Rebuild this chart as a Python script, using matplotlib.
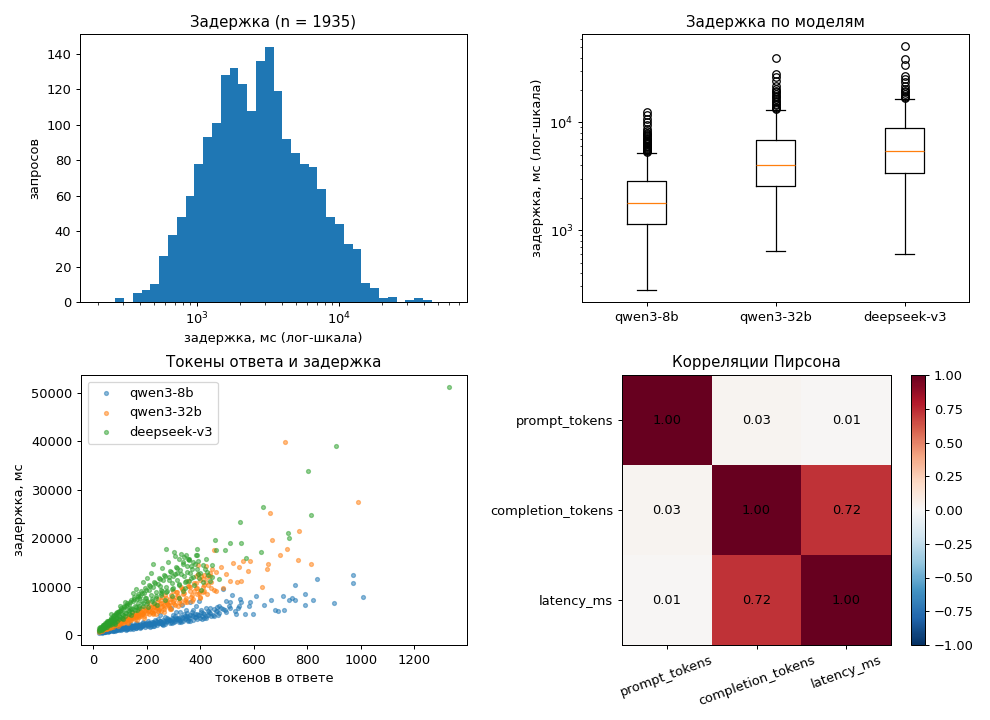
import numpy as np
import matplotlib
matplotlib.use("Agg")
import matplotlib.pyplot as plt

plt.rcParams["font.size"] = 10.4

# ---------------- data ----------------
# histogram (log-spaced bins 200..60000 ms, 40 bins)
hist_lo, hist_hi, hist_nbins = 200, 60000, 40
hist_counts = [0, 0, 2, 0, 5, 7, 10, 26, 38, 48, 60, 78, 93, 101, 128, 132, 123, 108,
               136, 144, 119, 92, 84, 78, 76, 64, 48, 44, 33, 30, 11, 8, 2, 3, 0, 1, 2, 1, 0, 0]

models = ["qwen3-8b", "qwen3-32b", "deepseek-v3"]
box_whislo = [279, 640, 600]
box_q1 = [1144, 2566, 3357]
box_med = [1787, 3981, 5474]
box_q3 = [2833, 6918, 8872]
box_whishi = [5248, 13090, 16520]
fliers_8b = [5300, 5400, 5500, 5600, 5700, 5800, 5900, 6000, 6100, 6250, 6400, 6550, 6700,
             6850, 7000, 7200, 7400, 7600, 7800, 8000, 8300, 8740, 9380, 10070, 10800, 11600, 12450]
fliers_32b = [13370, 13600, 13900, 14350, 14800, 15400, 15900, 16530, 17100, 17750, 18400,
              19050, 19700, 20450, 21950, 24400, 26200, 28100, 39500]
fliers_ds = [16800, 17200, 17750, 18300, 19050, 19700, 20450, 21950, 23560, 25300, 27150,
             34100, 38700, 51000]

# scatter: (completion tokens, latency ms)
pts_8b = [(21, 520), (34, 610), (26, 730), (45, 690), (38, 850), (52, 760), (29, 560), (61, 980), (47, 900),
          (56, 1120), (72, 870), (40, 640), (66, 1210), (83, 1050), (58, 810), (77, 1340), (91, 1180), (69, 960),
          (102, 1400), (86, 1290), (95, 1020), (112, 1610), (79, 1150), (124, 1330), (106, 1220), (118, 1750),
          (133, 1480), (99, 1560), (141, 1880), (127, 1270), (150, 1640), (137, 2010), (158, 1530), (145, 1420),
          (166, 2150), (173, 1760), (155, 1930), (182, 1890), (190, 2350), (162, 1680), (199, 2060), (177, 1580),
          (208, 2440), (215, 1950), (194, 2200), (224, 2620), (231, 2180), (203, 1780), (240, 2410), (248, 2850),
          (219, 2290), (257, 2300), (264, 2980), (236, 2060), (273, 2640), (281, 3180), (252, 2520), (290, 2760),
          (298, 3350), (268, 2350), (306, 2980), (315, 3560), (285, 3020), (323, 2840), (332, 3720), (301, 2620),
          (341, 3240), (350, 3900), (318, 3100), (359, 3450), (368, 4150), (336, 2900), (378, 3680), (388, 4330),
          (355, 3200), (398, 3590), (410, 4500), (372, 3050), (421, 3880), (433, 4720), (395, 4100), (446, 4150),
          (458, 5050), (412, 3500), (470, 4480), (483, 5350), (440, 3900), (497, 4750), (512, 5650), (465, 4200),
          (528, 5000), (545, 5900),
          (24, 640), (31, 480), (36, 700), (43, 560), (49, 820), (54, 650), (63, 780), (68, 1040), (74, 920),
          (81, 840), (88, 1110), (93, 1320), (104, 1130), (109, 1470), (115, 1300), (121, 1100), (129, 1590),
          (135, 1350), (143, 1700), (148, 1250), (153, 1790), (160, 1450), (169, 1980), (175, 1400), (185, 2110),
          (192, 1700), (206, 2250), (212, 1650), (222, 2400), (228, 1900), (245, 2540), (260, 2150), (276, 2850),
          (293, 2450), (310, 3300), (327, 2650), (345, 3500), (362, 2900), (383, 3800), (404, 3300),
          (30, 690), (37, 800), (44, 820), (51, 950), (57, 870), (62, 1100), (67, 1000), (71, 1180), (75, 1050),
          (80, 1250), (84, 1330), (89, 1240), (97, 1460), (101, 1290), (107, 1560), (111, 1380), (117, 1500),
          (123, 1680), (128, 1420), (132, 1760), (139, 1600), (144, 1930), (149, 1780), (154, 2040), (159, 1850),
          (164, 2180), (168, 1880), (174, 2250), (179, 2090), (184, 2390), (189, 2150), (196, 2480), (201, 2330),
          (207, 2560), (213, 2380), (218, 2720), (226, 2490), (233, 2810), (239, 2600), (247, 2950), (254, 2700),
          (261, 3120), (269, 2860), (277, 3260), (284, 3050), (292, 3420), (300, 3150), (308, 3620), (316, 3380),
          (325, 3780), (334, 3500), (343, 3980), (352, 3650), (361, 4200), (371, 3900), (381, 4420), (391, 4100),
          (401, 4700), (414, 4300), (427, 4950), (437, 4600), (450, 5300), (462, 4900), (476, 5600), (490, 5150),
          (505, 5900),
          (205, 2900), (223, 1900), (242, 3300), (258, 2300), (274, 3500), (288, 2500), (303, 3900), (320, 2700),
          (338, 4300), (354, 3000), (370, 4700), (386, 3300), (402, 5100), (419, 3600), (436, 5500), (452, 4000),
          (160, 2400), (140, 2200), (120, 1900), (100, 1700), (186, 2700), (230, 3100), (266, 3800), (296, 4200),
          (322, 4700), (348, 4500), (374, 5200), (406, 4000), (430, 4100), (462, 5800), (78, 1300), (58, 1000),
          (42, 750), (33, 580),
          (290, 5600), (330, 6300), (360, 6800), (385, 6000), (395, 7000), (250, 4200), (310, 4700), (345, 5100),
          (420, 5600), (470, 6100),
          (971, 12430), (971, 10760), (1007, 7850), (899, 6600), (836, 11600), (791, 6180), (821, 7220),
          (754, 10350), (792, 8470), (710, 7990), (731, 7150), (743, 7710), (754, 7290), (664, 7220), (713, 5140),
          (689, 4930), (678, 5140), (638, 6180), (607, 8120), (585, 6870), (580, 5900), (596, 4440), (565, 4310),
          (548, 7360), (553, 6810), (518, 8330), (509, 6740), (494, 6940), (484, 9440), (541, 5560), (532, 4310)]

pts_32b = [(20, 700), (27, 1010), (23, 820), (35, 1280), (31, 930), (42, 1560), (38, 1150), (48, 1300), (55, 1830),
           (46, 1700), (60, 1520), (52, 1450), (67, 2140), (58, 1950), (72, 1760), (64, 1620), (79, 2450), (70, 2250),
           (85, 1980), (76, 2000), (92, 2750), (83, 2480), (99, 2260), (89, 2300), (105, 3080), (96, 2690), (112, 2510),
           (102, 2750), (119, 3390), (109, 2950), (126, 2780), (116, 3300), (134, 3720), (123, 3150), (141, 3080),
           (130, 3600), (149, 4080), (138, 3540), (157, 3350), (146, 4020), (165, 4480), (153, 3780), (172, 3700),
           (162, 4350), (181, 4850), (169, 4120), (188, 3950), (178, 4750), (198, 5300), (186, 4480), (206, 4250),
           (195, 5100), (215, 5760), (203, 4900), (224, 4600), (212, 5550), (234, 6180), (221, 5200), (243, 5000),
           (230, 5980), (253, 6650), (239, 5500), (262, 5350), (249, 6400), (273, 7100), (258, 5900), (283, 5700),
           (268, 6850), (294, 7600), (278, 6300), (305, 6150), (288, 7350), (316, 8150), (299, 6750), (327, 6500),
           (310, 8800), (338, 8700), (322, 7200), (349, 6900), (334, 9450), (361, 9200), (346, 7700), (374, 7400),
           (358, 10100), (386, 9800), (370, 8200), (399, 7950), (382, 10800), (412, 10400), (395, 8700), (425, 8500),
           (408, 11500), (440, 11000), (452, 9300),
           (25, 1150), (33, 1060), (44, 1400), (50, 1220), (57, 1600), (63, 1880), (74, 2050), (81, 2200), (94, 2450),
           (101, 2900), (114, 2800), (121, 3200), (136, 3300), (144, 3850), (159, 4050), (167, 3850), (183, 4450),
           (191, 4900), (208, 5200), (218, 4800), (236, 5700), (246, 5250), (265, 6300), (286, 6900), (302, 7200),
           (318, 7700),
           (22, 950), (28, 1150), (32, 1350), (37, 1050), (41, 1300), (47, 1550), (51, 1800), (55, 1400), (61, 2000),
           (65, 1750), (69, 2350), (73, 2000), (78, 2600), (82, 2150), (87, 2750), (91, 2350), (97, 3000), (103, 2550),
           (108, 3300), (113, 2700), (118, 3550), (125, 3000), (131, 3900), (137, 3150), (142, 4200), (148, 3450),
           (154, 4600), (160, 3700), (166, 4900), (173, 4000), (179, 5300), (186, 4300), (193, 5700), (200, 4500),
           (207, 6000), (214, 4800), (221, 6400), (229, 5100), (237, 6800), (245, 5400), (254, 7200), (263, 5800),
           (272, 7700), (281, 6200), (291, 8300), (301, 6500), (311, 8900), (321, 6900), (331, 9500), (342, 7300),
           (353, 10200), (364, 7800), (376, 10700), (388, 8400), (400, 11400), (413, 9000), (426, 12000), (439, 9700),
           (205, 6900), (222, 4300), (240, 7500), (252, 5000), (268, 8200), (286, 5400), (298, 9200), (315, 6000),
           (329, 10000), (343, 6800), (355, 11200), (369, 7100), (383, 12200), (398, 7600), (410, 8900), (427, 10300),
           (437, 12800), (176, 5500), (161, 3200), (145, 4800), (128, 2500), (110, 3600), (92, 1900), (75, 2700),
           (226, 5800), (258, 7800), (276, 6700), (307, 7900), (336, 8500), (360, 9900), (377, 9000), (392, 12700),
           (415, 12400), (190, 3600), (233, 4400), (262, 4800), (290, 5300),
           (717, 39930), (990, 27430), (659, 25140), (769, 21390), (669, 19720), (724, 17850), (697, 16600),
           (765, 15550), (653, 14580), (647, 13610), (632, 9860), (584, 15350), (522, 14860), (544, 14030),
           (559, 15280), (578, 13190), (553, 11250), (537, 10900), (484, 9720), (457, 9170), (478, 14030),
           (497, 12640), (509, 11250), (444, 13680), (459, 12990), (434, 12290), (422, 10900), (409, 9860),
           (422, 14160), (391, 14370), (403, 12290), (385, 9720), (397, 9170), (813, 14720), (450, 17500)]

pts_ds = [(19, 900), (24, 1300), (22, 1050), (29, 1550), (26, 1200), (34, 1850), (31, 1500), (38, 1400), (41, 2150),
          (36, 2000), (45, 1800), (48, 2500), (43, 2250), (53, 2100), (56, 2850), (50, 2600), (61, 2400), (64, 3200),
          (58, 3000), (68, 2750), (72, 3600), (66, 3400), (77, 3100), (81, 4000), (74, 3850), (86, 3450), (90, 4450),
          (83, 4300), (95, 3850), (100, 4900), (92, 4750), (106, 4250), (111, 5400), (103, 5200), (117, 4650),
          (122, 5900), (114, 5700), (128, 5100), (134, 6400), (126, 6250), (141, 5550), (147, 6950), (138, 6800),
          (154, 6050), (161, 7500), (151, 7400), (168, 6550), (175, 8100), (165, 8000), (183, 7100), (190, 8700),
          (180, 8650), (198, 7650), (206, 9300), (195, 9350), (214, 8200), (223, 9950), (212, 10050), (232, 8800),
          (241, 10600), (229, 10800), (251, 9400), (261, 11300), (248, 11500), (271, 10000), (282, 12000),
          (268, 12300), (292, 10700), (303, 12700), (289, 13100), (314, 11400), (325, 13400), (311, 13900),
          (337, 12100), (349, 14200), (333, 14700), (361, 12900), (374, 15000), (357, 15500), (386, 13700),
          (21, 1400), (27, 1000), (33, 1250), (39, 1700), (46, 2000), (52, 1700), (59, 2200), (63, 2000), (70, 2300),
          (79, 2700), (88, 3000), (97, 3300), (108, 3600), (119, 3900), (131, 4300), (144, 4700), (157, 5100),
          (171, 5600), (186, 6100), (201, 6600), (217, 7100), (235, 7700), (253, 8300), (273, 8900), (295, 9600),
          (318, 10300), (342, 11000), (366, 11800), (390, 12600), (410, 11000),
          (23, 1600), (28, 1700), (32, 1100), (35, 2100), (40, 1500), (44, 2500), (47, 1700), (51, 2900), (55, 2200),
          (60, 3200), (63, 2600), (67, 3600), (71, 2800), (75, 4100), (80, 3300), (84, 4600), (89, 3500), (94, 5000),
          (99, 3800), (104, 5500), (109, 4200), (115, 6000), (120, 4500), (126, 6600), (132, 4900), (139, 7200),
          (145, 5300), (152, 7800), (158, 5700), (165, 8400), (172, 6100), (179, 9000), (186, 6600), (193, 9700),
          (201, 7000), (209, 10300), (217, 7500), (226, 11000), (235, 8000), (244, 11700), (254, 8600), (264, 12400),
          (275, 9200), (286, 13200), (297, 9800), (309, 14000), (321, 10500), (333, 15000), (346, 11200),
          (359, 15800), (372, 12000), (386, 16500), (400, 12800), (410, 14500), (425, 13000), (445, 12000),
          (215, 12800), (238, 6200), (255, 13900), (266, 7300), (278, 15100), (294, 8100), (305, 16300), (318, 7700),
          (327, 12600), (344, 9800), (356, 11100), (364, 14300), (377, 10400), (392, 15300), (403, 9300),
          (186, 10900), (172, 7700), (149, 8600), (137, 5300), (118, 6900), (98, 5900), (87, 4800), (76, 2500),
          (65, 4300), (247, 10200), (283, 11400), (312, 12900), (336, 9200), (370, 13600), (395, 11700),
          (420, 15800), (435, 11100), (205, 5700), (226, 6600), (193, 7600), (112, 3300), (82, 2200), (142, 4200),
          (163, 5200), (258, 9100), (298, 12200), (328, 16800), (350, 13000), (378, 14600), (300, 17200),
          (320, 15700),
          (160, 9500), (222, 14600), (273, 17700), (200, 11800), (340, 16200), (345, 16500), (352, 15800),
          (416, 13700), (430, 12500), (445, 14500), (454, 19700), (457, 17600), (469, 11600), (493, 17600),
          (512, 19000), (548, 23260), (550, 19020), (572, 15970), (628, 17150), (634, 26390), (728, 21180),
          (730, 20140), (803, 33890), (814, 24720), (906, 39100), (1331, 51180), (387, 17850), (385, 16460)]

corr_labels = ["prompt_tokens", "completion_tokens", "latency_ms"]
corr = np.array([[1.00, 0.03, 0.01],
                 [0.03, 1.00, 0.72],
                 [0.01, 0.72, 1.00]])

# ---------------- figure ----------------
fig = plt.figure(figsize=(11, 8), dpi=90)
W, H = 990, 720

def rect(l, t, r, b):
    return [l / W, (H - b) / H, (r - l) / W, (b - t) / H]

ax1 = fig.add_axes(rect(80, 34, 467, 302))
ax2 = fig.add_axes(rect(582, 34, 969, 302))
ax3 = fig.add_axes(rect(81, 375, 467, 645))
ax4 = fig.add_axes(rect(622, 375, 891, 645))
cax = fig.add_axes(rect(911, 375, 925, 645))

title_fs = 12

# histogram
edges = np.logspace(np.log10(hist_lo), np.log10(hist_hi), hist_nbins + 1)
centers = np.sqrt(edges[:-1] * edges[1:])
ax1.hist(centers, bins=edges, weights=hist_counts)
ax1.set_xscale("log")
ax1.set_title("Задержка (n = 1935)", fontsize=title_fs)
ax1.set_xlabel("задержка, мс (лог-шкала)")
ax1.set_ylabel("запросов")

# boxplot
fl = [fliers_8b, fliers_32b, fliers_ds]
stats = []
for i, m in enumerate(models):
    stats.append(dict(label=m, whislo=box_whislo[i], q1=box_q1[i], med=box_med[i],
                      q3=box_q3[i], whishi=box_whishi[i], fliers=fl[i]))
ax2.bxp(stats)
ax2.set_yscale("log")
ax2.set_title("Задержка по моделям", fontsize=title_fs)
ax2.set_ylabel("задержка, мс (лог-шкала)")

# scatter
for pts, m in [(pts_8b, models[0]), (pts_32b, models[1]), (pts_ds, models[2])]:
    tk = [p[0] for p in pts]
    lt = [p[1] for p in pts]
    ax3.scatter(tk, lt, s=10, alpha=0.5, label=m)
ax3.set_title("Токены ответа и задержка", fontsize=title_fs)
ax3.set_xlabel("токенов в ответе")
ax3.set_ylabel("задержка, мс")
ax3.legend(loc="upper left")

# heatmap
im = ax4.imshow(corr, cmap="RdBu_r", vmin=-1, vmax=1, aspect="auto")
ax4.set_xticks(range(3))
ax4.set_xticklabels(corr_labels, rotation=20)
ax4.set_yticks(range(3))
ax4.set_yticklabels(corr_labels)
for i in range(3):
    for j in range(3):
        ax4.text(j, i, f"{corr[i, j]:.2f}", ha="center", va="center", color="black")
ax4.set_title("Корреляции Пирсона", fontsize=title_fs)
fig.colorbar(im, cax=cax)

fig.savefig("out.png", dpi=90)
